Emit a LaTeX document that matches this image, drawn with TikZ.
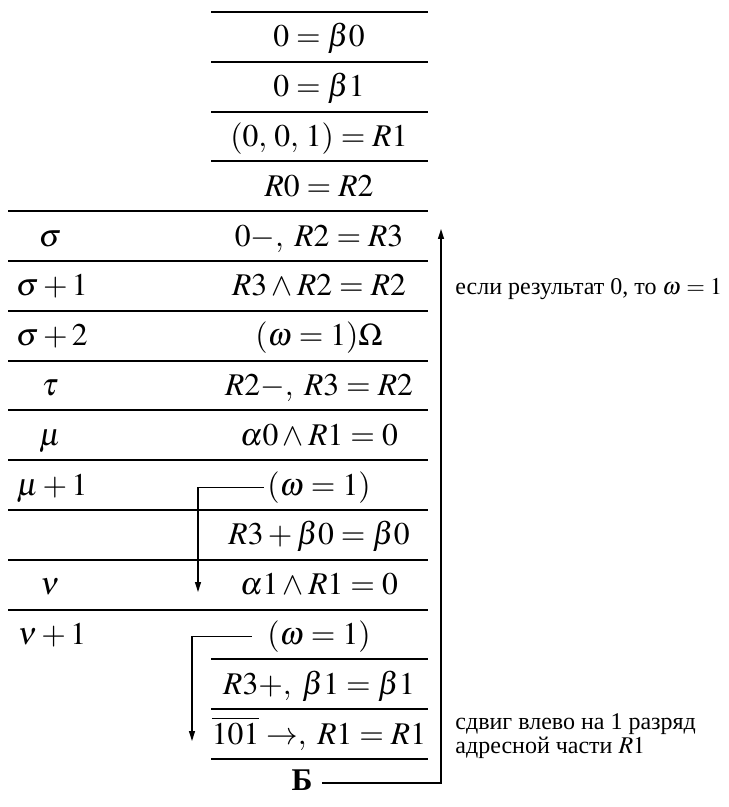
\documentclass[tikz,border=0pt]{standalone}
\usepackage{mathptmx}
\usepackage{fontspec}
\setmainfont{Liberation Serif}
\usetikzlibrary{arrows.meta}
\tikzset{
  rule/.style={line width=1pt},
  conn/.style={line width=0.7pt},
  arr/.style={conn,-{Triangle[length=5pt,width=3pt]}},
  cell/.style={anchor=base,inner sep=1.5pt,font=\fontsize{15.8}{19}\selectfont},
  side/.style={anchor=base west,inner sep=0pt,font=\fontsize{12}{10.5}\selectfont,align=left}
}
\begin{document}
\begin{tikzpicture}[x=0.5pt,y=-0.5pt]
\useasboundingbox (0,0) rectangle (728,807);
% rules
\foreach \k in {0,1,2,3,13,14,15} {
  \draw[rule] (211,{12+49.8*\k}) -- (428,{12+49.8*\k});
}
\foreach \k in {4,...,12} {
  \draw[rule] (8,{12+49.8*\k}) -- (428,{12+49.8*\k});
}
% right column cells (baseline = row centre + 10)
\node[cell] (r1)  at (319,{46.9+49.8*0})  {$0=\beta0$};
\node[cell] (r2)  at (319,{46.9+49.8*1})  {$0=\beta1$};
\node[cell] (r3)  at (319,{46.9+49.8*2})  {$(0,\,0,\,1)=R1$};
\node[cell] (r4)  at (319,{46.9+49.8*3})  {$R0=R2$};
\node[cell] (r5)  at (319,{46.9+49.8*4})  {$0-,\;R2=R3$};
\node[cell] (r6)  at (319,{46.9+49.8*5})  {$R3\wedge R2=R2$};
\node[cell] (r7)  at (319,{46.9+49.8*6})  {$(\omega=1)\Omega$};
\node[cell] (r8)  at (319,{46.9+49.8*7})  {$R2-,\;R3=R2$};
\node[cell] (r9)  at (319,{46.9+49.8*8})  {$\alpha0\wedge R1=0$};
\node[cell] (r10) at (319,{46.9+49.8*9})  {$(\omega=1)$};
\node[cell] (r11) at (319,{46.9+49.8*10}) {$R3+\beta0=\beta0$};
\node[cell] (r12) at (319,{46.9+49.8*11}) {$\alpha1\wedge R1=0$};
\node[cell] (r13) at (319,{46.9+49.8*12}) {$(\omega=1)$};
\node[cell] (r14) at (319,{46.9+49.8*13}) {$R3+,\;\beta1=\beta1$};
\node[cell] (r15) at (319,{46.9+49.8*14}) {$\overline{101}\rightarrow,\;R1=R1$};
% left column cells
\node[cell] (l5)  at (50,{46.9+49.8*4})  {$\sigma$};
\node[cell] (l6)  at (52,{46.9+49.8*5})  {$\sigma+1$};
\node[cell] (l7)  at (52,{46.9+49.8*6})  {$\sigma+2$};
\node[cell] (l8)  at (50,{46.9+49.8*7})  {$\tau$};
\node[cell] (l9)  at (50,{46.9+49.8*8})  {$\mu$};
\node[cell] (l10) at (52,{46.9+49.8*9})  {$\mu+1$};
\node[cell] (l12) at (50,{46.9+49.8*11}) {$\nu$};
\node[cell] (l13) at (52,{46.9+49.8*12}) {$\nu+1$};
% B label
\node[cell,font=\fontsize{15.8}{19}\selectfont\bfseries] (b) at (302,790) {Б};
% side notes
\node[side] (n1) at (455,294) {если результат 0, то $\omega=1$};
\node[side] (n2) at (455,753) {сдвиг влево на 1 разряд\\адресной части $R1$};
% connectors
\coordinate (e1) at (198,592);
\coordinate (e2) at (192,741);
\coordinate (c3) at (441,783);
\coordinate (t3) at (441,229);
\draw[arr] (r10.west) -| (e1);
\draw[arr] ([xshift=-6pt]r13.west) -| (e2);
\draw[arr] (b.east |- c3) ++(6,0) -- (c3) -- (t3);
\end{tikzpicture}
\end{document}
